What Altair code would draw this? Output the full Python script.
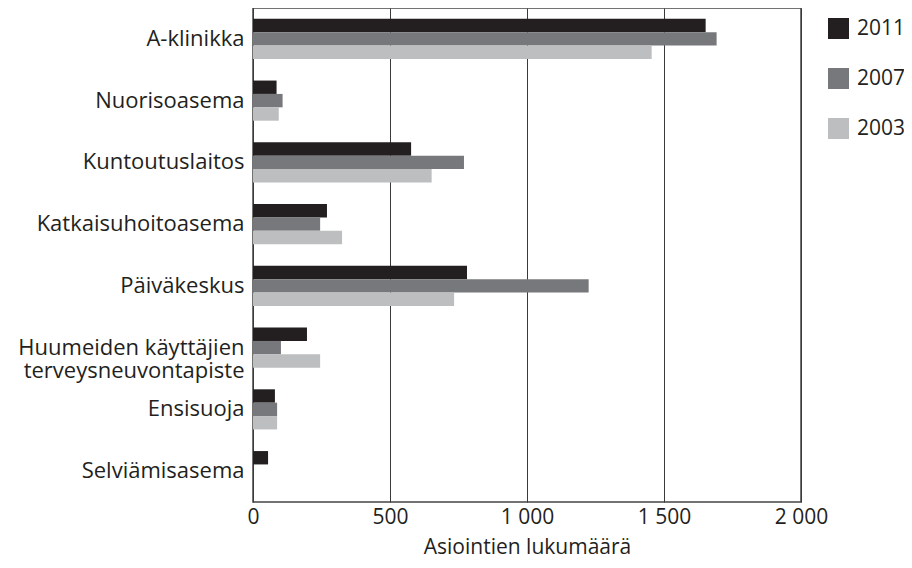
import altair as alt
import pandas as pd

categories = [
    "A-klinikka",
    "Nuorisoasema",
    "Kuntoutuslaitos",
    "Katkaisuhoitoasema",
    "Päiväkeskus\u00a0",
    "Huumeiden käyttäjien terveysneuvontapiste",
    "Ensisuoja",
    "Selviämisasema",
]
years = ["2011", "2007", "2003"]
values_2011 = [1652, 86, 577, 270, 781, 197, 80, 55]
values_2007 = [1692, 108, 770, 245, 1225, 102, 88, 0]
values_2003 = [1455, 94, 652, 325, 734, 245, 88, 0]
colors = ["#231f20", "#77787b", "#bcbec0"]
x_ticks = [0, 500, 1000, 1500, 2000]

rows = []
for year, vals in zip(years, [values_2011, values_2007, values_2003]):
    for c, v in zip(categories, vals):
        rows.append({"Palvelu": c, "Vuosi": year, "Asioinnit": v})
df = pd.DataFrame(rows)

FONT = "Open Sans"
TXT = "#231f20"

chart = (
    alt.Chart(df)
    .mark_bar()
    .encode(
        x=alt.X(
            "Asioinnit:Q",
            scale=alt.Scale(domain=[0, 2000], nice=False),
            axis=alt.Axis(
                title="Asiointien lukumäärä",
                values=x_ticks,
                labelExpr="replace(format(datum.value, ','), ',', ' ')",
                ticks=False,
                domain=False,
                grid=True,
                gridColor="#3a3a3a",
                gridWidth=1,
                labelFontSize=21,
                labelFont=FONT,
                labelColor=TXT,
                labelPadding=4,
                titleFontSize=21,
                titleFont=FONT,
                titleFontWeight="normal",
                titleColor=TXT,
                titlePadding=9,
                labelFlush=False,
            ),
        ),
        y=alt.Y(
            "Palvelu:N",
            sort=categories,
            scale=alt.Scale(paddingInner=0.35, paddingOuter=0.175),
            axis=alt.Axis(
                title=None,
                ticks=False,
                domain=False,
                labelFontSize=22,
                labelFont=FONT,
                labelColor=TXT,
                labelPadding=9,
                labelLimit=400,
                labelLineHeight=23,
                labelExpr="datum.label == 'Huumeiden käyttäjien terveysneuvontapiste' ? ['Huumeiden käyttäjien', 'terveysneuvontapiste'] : datum.label",
            ),
        ),
        yOffset=alt.YOffset("Vuosi:N", sort=years),
        color=alt.Color(
            "Vuosi:N",
            sort=years,
            scale=alt.Scale(domain=years, range=colors),
            legend=alt.Legend(
                title=None,
                orient="none",
                legendX=575,
                legendY=10,
                symbolType="square",
                symbolSize=441,
                symbolStrokeWidth=0,
                labelFontSize=21,
                labelFont=FONT,
                labelColor=TXT,
                labelOffset=8,
                rowPadding=28,
                padding=0,
            ),
        ),
    )
    .properties(
        width=548,
        height=494,
        autosize=alt.AutoSizeParams(type="none"),
        padding={"left": 245, "top": 0, "right": 103, "bottom": 58},
    )
    .configure_view(stroke="#444444", strokeWidth=1.5)
    .configure_axis(labelFont=FONT, titleFont=FONT)
)

chart.save("out.html", embed_options={"renderer": "svg", "actions": False})
